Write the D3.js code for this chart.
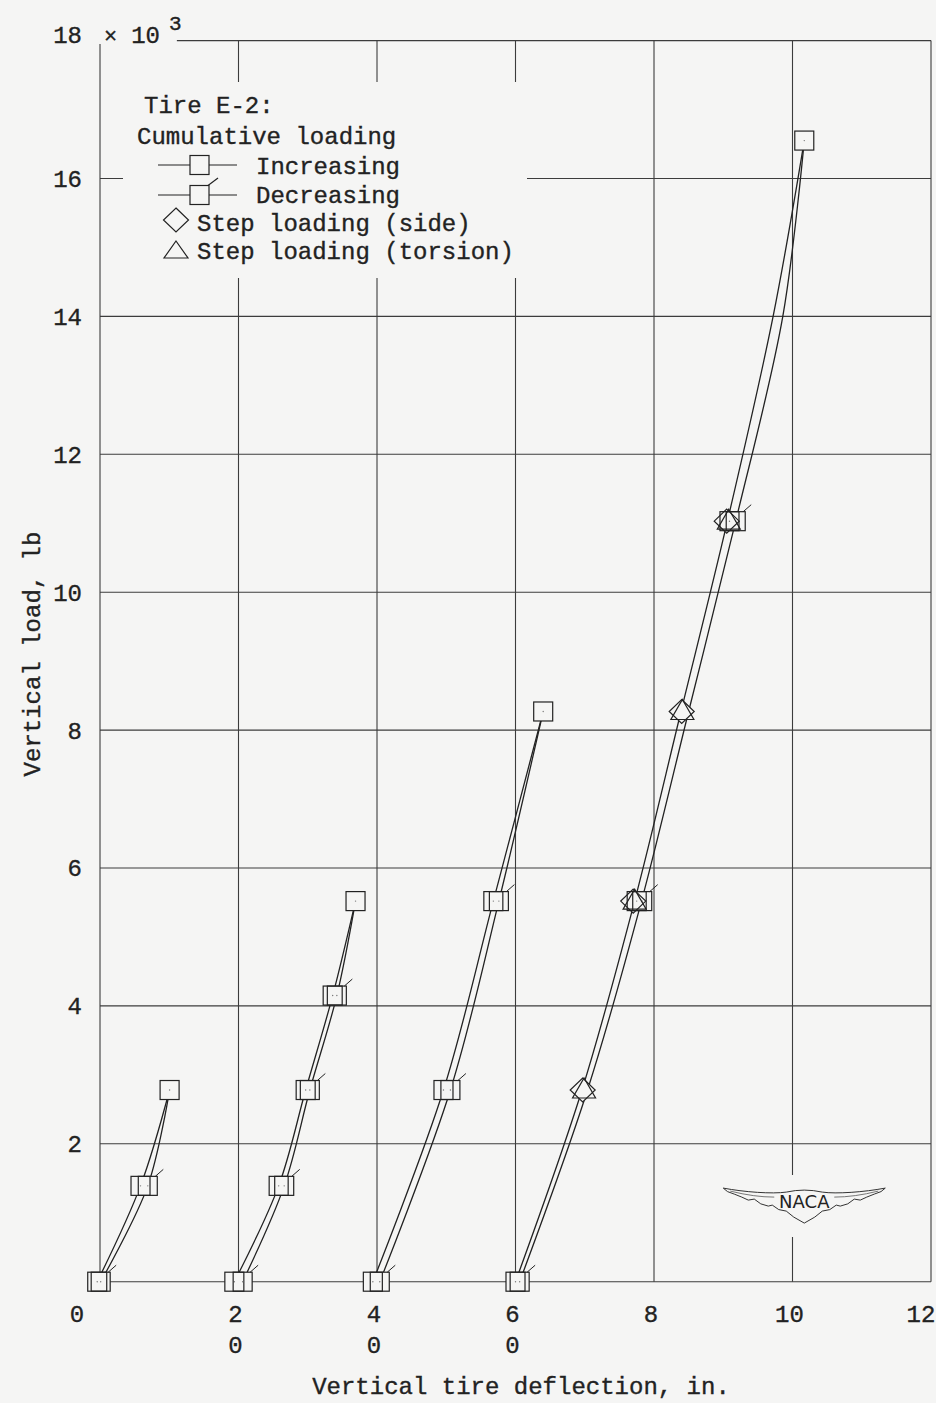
<!DOCTYPE html>
<html><head><meta charset="utf-8">
<script src="https://cdn.jsdelivr.net/npm/d3@7"></script>
<style>html,body{margin:0;padding:0;background:#f5f5f4;} svg{display:block}</style>
</head><body>
<svg id="chart" width="936" height="1403"></svg>
<script>
// ---------- data ----------
const xTickValues = [0, 2, 4, 6, 8, 10, 12];
const xSubLabels  = ["", "0", "0", "0", "", "", ""];
const yTickValues = [2, 4, 6, 8, 10, 12, 14, 16, 18];
const curveOffsets = [0, 2, 4, 6];

// Curve A (origin at 0)
const loadsA    = [0, 1.39, 2.78];
const incA      = [-0.04, 0.585, 1.005];
const decLoadsA = [0, 1.39];
const decA      = [0.01, 0.69];

// Curve B (origin at 2)
const loadsB    = [0, 1.39, 2.78, 4.15, 5.52];
const incB      = [-0.06, 0.58, 0.97, 1.36, 1.69];
const decLoadsB = [0, 1.39, 2.78, 4.15];
const decB      = [0.06, 0.66, 1.03, 1.42];

// Curve C (origin at 4)
const loadsC    = [0, 2.78, 5.52, 8.27];
const incC      = [-0.06, 0.96, 1.68, 2.40];
const decLoadsC = [0, 2.78, 5.52];
const decC      = [0.04, 1.06, 1.76];

// Curve D (origin at 6) – cumulative loading squares
const loadsD    = [0, 5.52, 11.03, 16.55];
const incD      = [0, 1.75, 3.09, 4.17];
const decLoadsD = [0, 5.52, 11.03];
const decD      = [0.06, 1.83, 3.18];
// Curve D – step loading
const stepLoads   = [2.78, 5.52, 8.27, 11.03];
const stepSide    = [0.97, 1.70, 2.40, 3.05];
const stepTorsion = [0.99, 1.72, 2.41, 3.08];
// Curve D – faired lines
const lineLoadsD = [0, 2.78, 5.52, 8.27, 11.03, 14, 16.55];
const incLineD   = [0, 0.96, 1.72, 2.39, 3.06, 3.72, 4.17];
const decLineD   = [0.06, 1.04, 1.82, 2.50, 3.18, 3.86, 4.17];

// ---------- setup ----------
const W = 936, H = 1403;
const svg = d3.select("#chart");
const ink = "#222", grid = "#3c3c3c", bg = "#f5f5f4";
const mono = "'Liberation Mono', 'DejaVu Sans Mono', monospace";

const x = d3.scaleLinear().domain([0, 12]).range([100, 931]);
const y = d3.scaleLinear().domain([0, 18]).range([1281.7, 40.6]);

svg.append("rect").attr("width", W).attr("height", H).attr("fill", bg);

// ---------- grid ----------
const g = svg.append("g").attr("stroke", grid).attr("stroke-width", 1.1).attr("fill", "none");
yTickValues.filter(v => v < 18).forEach(v => {
  g.append("line").attr("x1", x(0)).attr("x2", x(12)).attr("y1", y(v)).attr("y2", y(v));
});
g.append("line").attr("x1", x(0)).attr("x2", x(12)).attr("y1", y(0)).attr("y2", y(0));
g.append("line").attr("x1", x(1.11)).attr("x2", x(12)).attr("y1", y(18)).attr("y2", y(18));
xTickValues.filter(v => v > 0).forEach(v => {
  g.append("line").attr("x1", x(v)).attr("x2", x(v)).attr("y1", y(18)).attr("y2", y(0));
});
g.append("line").attr("x1", x(0)).attr("x2", x(0)).attr("y1", y(17.95)).attr("y2", y(0));

// masks (legend area and logo area)
svg.append("rect").attr("x", 123).attr("y", 82).attr("width", 404).attr("height", 196).attr("fill", bg);
svg.append("rect").attr("x", 725).attr("y", 1175).attr("width", 160).attr("height", 62).attr("fill", bg);

// ---------- axis labels ----------
const textStyle = sel => sel.attr("font-family", mono).attr("fill", ink)
  .attr("stroke", ink).attr("stroke-width", 0.35);

const yl = svg.append("g").call(textStyle).attr("font-size", 24);
yTickValues.forEach(v => {
  yl.append("text").attr("x", 82).attr("y", y(v) + (v === 18 ? -6 : 0))
    .attr("dy", "0.35em").attr("text-anchor", "end").text(v);
});
const mult = yl.append("text").attr("x", 104).attr("y", 43);
mult.append("tspan").attr("font-size", 22).text("×");
mult.append("tspan").attr("dx", 14).text("10");
yl.append("text").attr("x", 169).attr("y", 30).attr("font-size", 21).text("3");

const xl = svg.append("g").call(textStyle).attr("font-size", 24).attr("text-anchor", "middle");
xTickValues.forEach((v, i) => {
  const shift = v === 0 ? -23 : (v === 12 ? -10 : -3);
  xl.append("text").attr("x", x(v) + shift).attr("y", 1322).text(v);
  if (xSubLabels[i]) xl.append("text").attr("x", x(v) + shift).attr("y", 1353).text(xSubLabels[i]);
});
xl.append("text").attr("x", 521).attr("y", 1394).attr("font-size", 24).text("Vertical tire deflection, in.");

svg.append("text").call(textStyle).attr("font-size", 24)
  .attr("text-anchor", "middle")
  .attr("transform", `translate(40,${654}) rotate(-90)`).text("Vertical load, lb");

// ---------- curves ----------
const curves = [
  {off: curveOffsets[0], loads: loadsA, inc: incA, decLoads: decLoadsA, dec: decA},
  {off: curveOffsets[1], loads: loadsB, inc: incB, decLoads: decLoadsB, dec: decB},
  {off: curveOffsets[2], loads: loadsC, inc: incC, decLoads: decLoadsC, dec: decC},
  {off: curveOffsets[3], loads: loadsD, inc: incD, decLoads: decLoadsD, dec: decD}
];

const lineGen = d3.line().x(d => x(d[0])).y(d => y(d[1])).curve(d3.curveCatmullRom.alpha(0.5));
const lineLayer = svg.append("g").attr("fill", "none").attr("stroke", ink).attr("stroke-width", 1.3);

curves.slice(0, 3).forEach(c => {
  const incPts = c.loads.map((l, i) => [c.off + c.inc[i], l]);
  const top = incPts[incPts.length - 1];
  const decPts = c.decLoads.map((l, i) => [c.off + c.dec[i], l]).concat([top]);
  lineLayer.append("path").attr("d", lineGen(incPts));
  lineLayer.append("path").attr("d", lineGen(decPts));
});
const offD = curveOffsets[3];
lineLayer.append("path").attr("d", lineGen(lineLoadsD.map((l, i) => [offD + incLineD[i], l])));
lineLayer.append("path").attr("d", lineGen(lineLoadsD.map((l, i) => [offD + decLineD[i], l])));

// ---------- markers ----------
const S = 19;
const diamondPath = "M0,-12 L12.5,0 L0,12 L-12.5,0Z";
const trianglePath = "M0,-12 L11.5,8 L-11.5,8Z";

const markers = [];
curves.forEach(c => {
  c.loads.forEach((l, i) => markers.push({type: "sq", cx: x(c.off + c.inc[i]), cy: y(l), flag: false}));
  c.decLoads.forEach((l, i) => markers.push({type: "sq", cx: x(c.off + c.dec[i]), cy: y(l), flag: true}));
});
stepLoads.forEach((l, i) => {
  markers.push({type: "di", cx: x(offD + stepSide[i]), cy: y(l)});
  markers.push({type: "tr", cx: x(offD + stepTorsion[i]), cy: y(l)});
});

function drawMarker(sel, m, fillOnly) {
  let el;
  if (m.type === "sq") {
    el = sel.append("rect").attr("x", m.cx - S / 2).attr("y", m.cy - S / 2).attr("width", S).attr("height", S);
  } else {
    el = sel.append("path").attr("d", m.type === "di" ? diamondPath : trianglePath)
      .attr("transform", `translate(${m.cx},${m.cy})`);
  }
  if (fillOnly) el.attr("fill", bg).attr("stroke", "none");
  else el.attr("fill", "none").attr("stroke", ink).attr("stroke-width", 1.2);
}
const fillLayer = svg.append("g");
markers.forEach(m => drawMarker(fillLayer, m, true));
const outLayer = svg.append("g");
markers.forEach(m => {
  drawMarker(outLayer, m, false);
  if (m.flag) {
    outLayer.append("line").attr("x1", m.cx + S / 2 - 2).attr("y1", m.cy - S / 2)
      .attr("x2", m.cx + S / 2 + 6).attr("y2", m.cy - S / 2 - 7)
      .attr("stroke", ink).attr("stroke-width", 1);
  }
  if (m.type === "sq") {
    outLayer.append("circle").attr("cx", m.cx).attr("cy", m.cy).attr("r", 0.7).attr("fill", "#777");
  }
});

// ---------- legend ----------
const lg = svg.append("g").call(textStyle).attr("font-size", 24);
lg.append("text").attr("x", 144).attr("y", 113).text("Tire E-2:");
lg.append("text").attr("x", 137).attr("y", 144).text("Cumulative loading");
lg.append("text").attr("x", 256).attr("y", 174).text("Increasing");
lg.append("text").attr("x", 256).attr("y", 203).text("Decreasing");
lg.append("text").attr("x", 197).attr("y", 231).text("Step loading (side)");
lg.append("text").attr("x", 197).attr("y", 259).text("Step loading (torsion)");
const ls = svg.append("g").attr("stroke", ink).attr("stroke-width", 1.2).attr("fill", bg);
[[165, false], [195, true]].forEach(([yy, flag]) => {
  ls.append("line").attr("x1", 158).attr("x2", 237).attr("y1", yy).attr("y2", yy);
  ls.append("rect").attr("x", 190).attr("y", yy - 9.5).attr("width", 19).attr("height", 19);
  if (flag) ls.append("line").attr("x1", 208).attr("y1", yy - 9.5).attr("x2", 218).attr("y2", yy - 17);
});
ls.append("path").attr("d", diamondPath).attr("transform", "translate(176,220)");
ls.append("path").attr("d", "M0,-9 L12,8 L-12,8Z").attr("transform", "translate(176,250)");

// ---------- NACA logo ----------
const cx = x(10.17), cy = y(1.14);
const logo = svg.append("g").attr("transform", `translate(${cx},${cy})`);
logo.append("path")
  .attr("d", "M-81,-15 C-60,-11 -32,-9 -18,-11 Q0,-15 18,-11 C32,-9 60,-11 81,-15 " +
             "Q78,-11 70,-9 Q62,-6 56,-3 L50,-4 Q44,2 36,3 L32,2 Q26,8 18,8 Q12,14 0,20 " +
             "Q-12,14 -18,8 Q-26,8 -32,2 L-36,3 Q-44,2 -50,-4 L-56,-3 Q-62,-6 -70,-9 Q-78,-11 -81,-15Z")
  .attr("fill", bg).attr("stroke", "#333").attr("stroke-width", 1);
logo.append("path")
  .attr("d", "M-74,-12 Q-50,-6 -30,-6 M74,-12 Q50,-6 30,-6")
  .attr("fill", "none").attr("stroke", "#555").attr("stroke-width", 0.8);
logo.append("text").attr("x", 0).attr("y", 5).attr("text-anchor", "middle")
  .attr("font-family", "'DejaVu Sans', sans-serif").attr("font-size", 18).attr("fill", "#222")
  .text("NACA");
</script>
</body></html>
